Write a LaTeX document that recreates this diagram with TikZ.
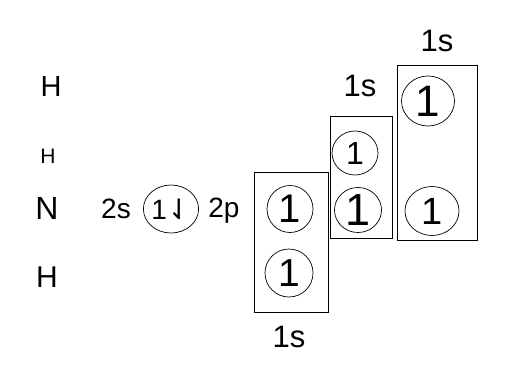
\documentclass[tikz,border=0pt]{standalone}
\usepackage{fontspec}
\setmainfont{Liberation Sans}
\newfontfamily\flechas{DejaVu Sans}
\usetikzlibrary{shapes.geometric}

\begin{document}
\begin{tikzpicture}[x=1pt,y=-1pt,
orb/.style={draw,ellipse,inner sep=0pt,line width=0.7pt},
caja/.style={draw,line width=1pt,inner sep=0pt},
lbl/.style={inner sep=0pt,font=\fontsize{#1}{#1}\selectfont},
num/.style={font=\fontsize{#1}{#1}\selectfont}
]
\useasboundingbox (0,0) rectangle (532,370);

% atoms
\node[lbl=29] (h1) at (51,87) {H};
\node[lbl=21] (h2) at (48,156) {H};
\node[lbl=32] (n) at (47,208) {N};
\node[lbl=30] (h3) at (47,277) {H};

% nitrogen 2s / 2p
\node[lbl=28] (s2) at (116,209) {2s};
\node[orb,minimum width=48pt,minimum height=48pt,num=28] (o2s) at (171,209) {1\flechas ⇃};
\node[lbl=28] (p2) at (224,211) {2p};

% groups
\node[caja,minimum width=74pt,minimum height=140pt] (caja1) at (291,242) {};
\node[caja,minimum width=62pt,minimum height=122pt] (caja2) at (361,177) {};
\node[caja,minimum width=80pt,minimum height=175pt] (caja3) at (437,152.5) {};

\node[orb,minimum width=46pt,minimum height=47pt,num=40] (o11) at (290,209) {1};
\node[orb,minimum width=48pt,minimum height=48pt,num=39] (o12) at (289,273) {1};
\node[orb,minimum width=46pt,minimum height=44pt,num=32] (o21) at (355,153) {1};
\node[orb,minimum width=47pt,minimum height=45pt,num=45] (o22) at (358,210) {1};
\node[orb,minimum width=53pt,minimum height=50pt,num=44] (o31) at (428,101) {1};
\node[orb,minimum width=54pt,minimum height=49pt,num=38] (o32) at (432,211) {1};

% labels
\node[lbl=31] (s1a) at (289,337) {1s};
\node[lbl=31] (s1b) at (360,86) {1s};
\node[lbl=31] (s1c) at (437,41) {1s};
\end{tikzpicture}
\end{document}
